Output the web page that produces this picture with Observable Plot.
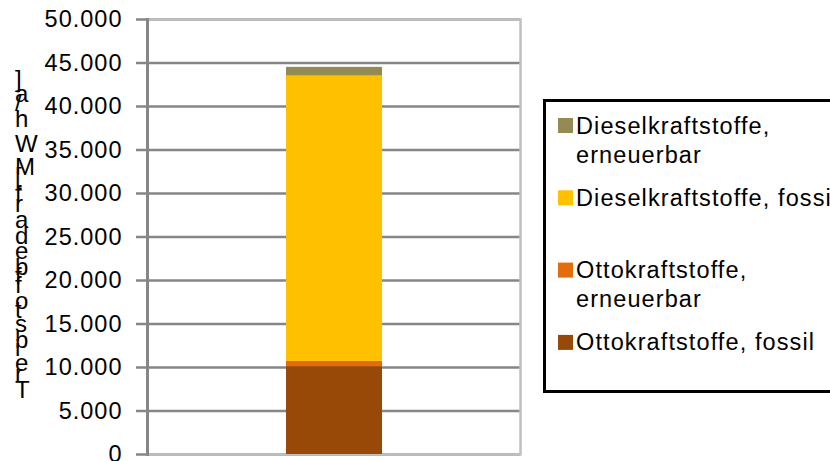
<!DOCTYPE html>
<html>
<head>
<meta charset="utf-8">
<script src="https://cdn.jsdelivr.net/npm/d3@7"></script>
<script src="https://cdn.jsdelivr.net/npm/@observablehq/plot@0.6"></script>
<style>
html, body { margin: 0; padding: 0; background: #fff; overflow: hidden; }
#wrap { position: relative; width: 830px; height: 461px; overflow: hidden; font-family: "Liberation Sans", Arial, sans-serif; }
#wrap > svg { position: absolute; left: 0; top: 0; }
</style>
</head>
<body>
<div id="wrap"></div>
<script>
// ---- data ----
const categories = [""];
const series = ["Ottokraftstoffe, fossil", "Ottokraftstoffe, erneuerbar", "Dieselkraftstoffe, fossil", "Dieselkraftstoffe, erneuerbar"];
const values = [10100, 600, 32800, 1000];
const colors = ["#984807", "#E46C0A", "#FFC000", "#948A54"];
const yTicks = [0, 5000, 10000, 15000, 20000, 25000, 30000, 35000, 40000, 45000, 50000];
const yLabel = "Treibstoffbedarf [MWh/a]";
// legend entries, top to bottom, with their line wrapping
const legendSeries = ["Dieselkraftstoffe, erneuerbar", "Dieselkraftstoffe, fossil", "Ottokraftstoffe, erneuerbar", "Ottokraftstoffe, fossil"];
const legendLines = [["Dieselkraftstoffe,", "erneuerbar"], ["Dieselkraftstoffe, fossil"], ["Ottokraftstoffe,", "erneuerbar"], ["Ottokraftstoffe, fossil"]];

// ---- chart ----
const de = d3.formatLocale({decimal: ",", thousands: ".", grouping: [3], currency: ["", "€"]});
const fmt = de.format(",");
const data = series.map((s, i) => ({cat: categories[0], series: s, value: values[i]}));
const FONT = "'Liberation Sans', Arial, sans-serif";

const chart = Plot.plot({
  width: 830,
  height: 461,
  marginLeft: 147,
  marginRight: 310,
  marginTop: 19,
  marginBottom: 7,
  style: {fontFamily: FONT, fontSize: "23px", color: "#000", background: "transparent", overflow: "visible"},
  x: {domain: categories, padding: 0.59, axis: null},
  y: {domain: [0, 50000], ticks: yTicks, tickFormat: fmt, label: null, axis: null},
  color: {domain: series, range: colors},
  marks: [
    Plot.ruleY(yTicks, {stroke: "#868686", strokeWidth: 2.5}),
    Plot.frame({stroke: "#c0c0c0", strokeWidth: 2.5}),
    Plot.barY(data, {x: "cat", y: "value", fill: "series", order: series}),
    Plot.frame({anchor: "left", stroke: "#868686", strokeWidth: 3}),
    Plot.axisY({ticks: yTicks, tickFormat: fmt, tickSize: 11, tickPadding: 14, stroke: "#868686", strokeWidth: 2.5, fill: "#000", label: null, fontSize: 23.5})
  ]
});
chart.querySelectorAll("text").forEach(t => t.style.letterSpacing = "1px");
document.getElementById("wrap").appendChild(chart);

// ---- overlay: y label and legend ----
const svg = d3.select("#wrap").append("svg")
  .attr("width", 830).attr("height", 461)
  .style("font-family", FONT);

svg.append("text")
  .attr("transform", "rotate(-90)")
  .attr("x", -398)
  .attr("y", 15)
  .attr("rotate", 90)
  .style("font-size", "24px")
  .style("letter-spacing", "2.4px")
  .attr("fill", "#000")
  .text(yLabel);

const lg = svg.append("g");
lg.append("rect")
  .attr("x", 544.5).attr("y", 100.5)
  .attr("width", 400).attr("height", 291)
  .attr("fill", "#fff").attr("stroke", "#000").attr("stroke-width", 3);

const colorOf = s => colors[series.indexOf(s)];
legendSeries.forEach((s, i) => {
  const top = 118 + i * 72.3;
  lg.append("rect").attr("x", 558).attr("y", top).attr("width", 15).attr("height", 15).attr("fill", colorOf(s));
  legendLines[i].forEach((line, j) => {
    lg.append("text")
      .attr("x", 576).attr("y", top + 15.5 + j * 29)
      .style("font-size", "23.5px").style("letter-spacing", "1.1px")
      .attr("fill", "#000")
      .text(line);
  });
});
</script>
</body>
</html>
